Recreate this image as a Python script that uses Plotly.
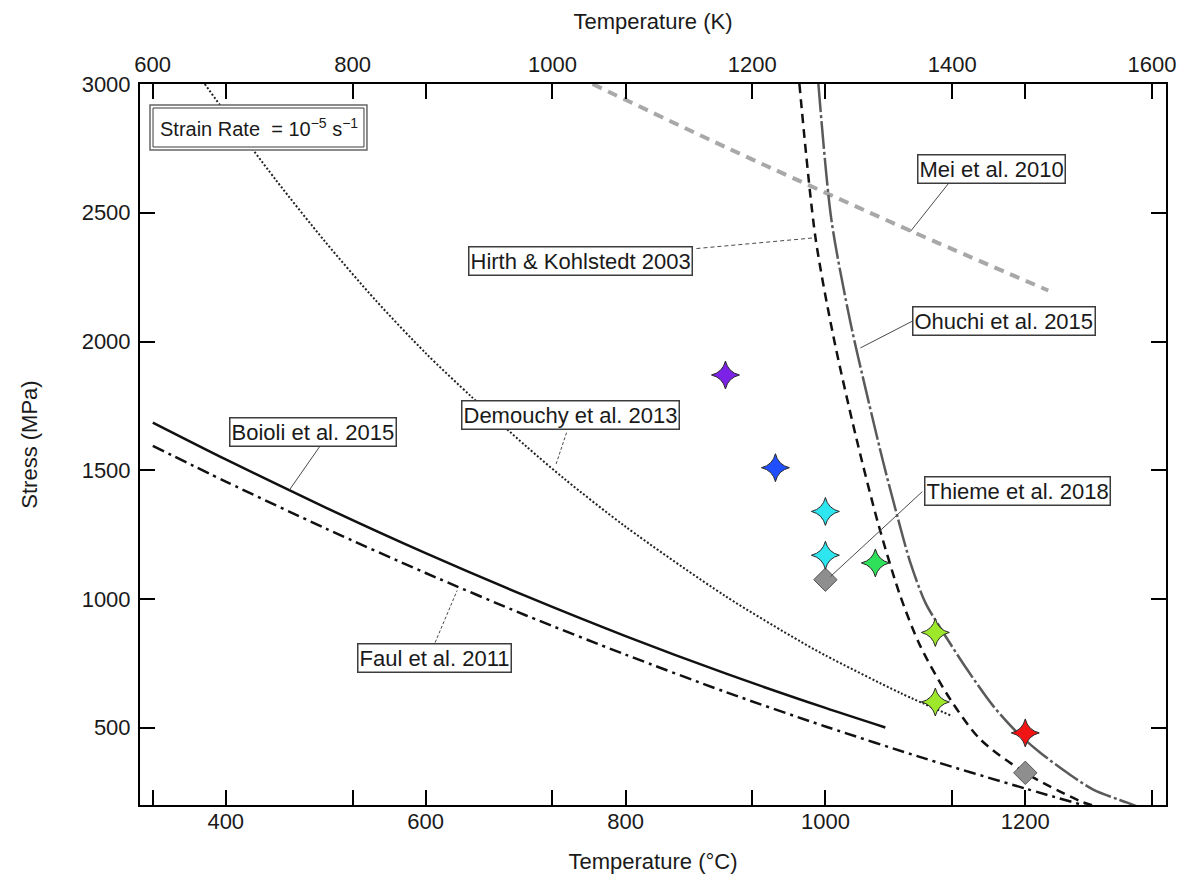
import plotly.graph_objects as go

# ---- flow-law curves: temperature (°C) vs. stress (MPa) at 1e-5 s^-1 ----
boioli_T = [327, 400, 500, 600, 700, 800, 900, 1000, 1060]
boioli_S = [1685, 1542, 1355, 1178, 1012, 856, 711, 577, 501]

faul_T = [327, 400, 500, 600, 700, 800, 900, 1000, 1100, 1200, 1262]
faul_S = [1595, 1456, 1274, 1101, 937, 784, 639, 505, 380, 264, 195]

demouchy_T = [379, 400, 450, 500, 550, 600, 646, 700, 740, 800, 900, 975, 1000, 1075, 1127]
demouchy_S = [3000, 2887, 2628, 2385, 2160, 1955, 1785, 1595, 1463, 1281, 1011, 835, 781, 635, 545]

hirth_T = [974, 990, 1008, 1030, 1053, 1075, 1095, 1125, 1155, 1200, 1255, 1270]
hirth_S = [3000, 2405, 2020, 1640, 1290, 1011, 817, 610, 455, 325, 215, 195]

ohuchi_T = [993, 1006, 1025, 1042, 1058, 1072, 1085, 1100, 1118, 1142, 1168, 1192, 1215, 1242, 1268, 1302, 1315]
ohuchi_S = [3000, 2473, 2075, 1787, 1529, 1321, 1141, 986, 869, 725, 584, 481, 403, 325, 260, 209, 190]

mei_T = [767, 900, 1085, 1223]
mei_S = [3000, 2755, 2430, 2198]

# ---- experimental points ----
star_T = [900, 950, 1000, 1000, 1050, 1110, 1110, 1200]
star_S = [1870, 1510, 1340, 1170, 1140, 870, 600, 480]
star_colors = ["#7B22E6", "#1F4FFF", "#2EE6F0", "#2EE6F0", "#2EE05A", "#9EE82C", "#9EE82C", "#F01414"]

thieme_T = [1000, 1200]
thieme_S = [1075, 325]

# ---- curve labels: text, box centre, leader start, leader end (°C, MPa) ----
label_text = ["Mei et al. 2010", "Hirth & Kohlstedt 2003", "Ohuchi et al. 2015",
              "Demouchy et al. 2013", "Boioli et al. 2015", "Thieme et al. 2018",
              "Faul et al. 2011"]
label_T = [1166, 755, 1179, 745, 487, 1192, 609]
label_S = [2671, 2312, 2079, 1714, 1650, 1419, 769]
leader_T0 = [1123, 871, 1090, 741, 494, 1097, 609.5]
leader_S0 = [2613, 2361, 2085, 1646, 1592, 1417, 831]
leader_T1 = [1085, 990, 1035, 730, 464, 1005, 631.5]
leader_S1 = [2427, 2403, 1975, 1518, 1425, 1087, 1033]
leader_dash = ["solid", "4px,3px", "solid", "3px,2px", "solid", "solid", "3px,2px"]

celsius_ticks = [400, 600, 800, 1000, 1200]
kelvin_ticks = [600, 800, 1000, 1200, 1400, 1600]
stress_ticks = [500, 1000, 1500, 2000, 2500, 3000]
T_range = [314.2, 1340.8]
S_range = [200, 3000]

FONT = "Liberation Sans, Arial, sans-serif"
INK = "#1a1a1a"

fig = go.Figure()


def curve(T, S, color, width, dash):
    fig.add_trace(go.Scatter(x=T, y=S, mode="lines", hoverinfo="skip",
                             line=dict(color=color, width=width, dash=dash,
                                       shape="spline", smoothing=0.8)))


curve(mei_T, mei_S, "#A8A8A8", 4, "10px,7px")
curve(boioli_T, boioli_S, "#111111", 2.5, "solid")
curve(faul_T, faul_S, "#111111", 2.5, "12px,5px,3px,5px")
curve(demouchy_T, demouchy_S, "#222222", 2, "2px,2px")
curve(hirth_T, hirth_S, "#111111", 2.5, "9px,6px")
curve(ohuchi_T, ohuchi_S, "#5A5A5A", 2.5, "28px,3px,3px,3px")

fig.add_trace(go.Scatter(
    x=thieme_T, y=thieme_S, mode="markers", hoverinfo="skip",
    marker=dict(symbol="diamond", size=18, color="#8E8E8E",
                line=dict(color="#555555", width=1))))
fig.add_trace(go.Scatter(
    x=star_T, y=star_S, mode="markers", hoverinfo="skip",
    marker=dict(symbol="star-diamond", size=20, color=star_colors,
                line=dict(color="#2a2a2a", width=1))))

# invisible trace so the Kelvin axis is laid out
fig.add_trace(go.Scatter(x=[T_range[0] + 273.15, T_range[1] + 273.15], y=[None, None],
                         xaxis="x2", mode="lines", hoverinfo="skip", showlegend=False))

# leader lines
for t0, s0, t1, s1, d in zip(leader_T0, leader_S0, leader_T1, leader_S1, leader_dash):
    fig.add_shape(type="line", xref="x", yref="y", x0=t0, y0=s0, x1=t1, y1=s1,
                  line=dict(color="#4a4a4a", width=1, dash=d), layer="above")

# boxed labels
for txt, t, s in zip(label_text, label_T, label_S):
    fig.add_annotation(x=t, y=s, xref="x", yref="y", text=txt, showarrow=False,
                       xanchor="center", yanchor="middle",
                       font=dict(family=FONT, size=22, color=INK),
                       bgcolor="white", bordercolor="#3c3c3c", borderwidth=1.5,
                       borderpad=1)

# strain-rate box (double frame)
fig.add_shape(type="rect", xref="paper", yref="paper",
              x0=0.00975, x1=0.2212, y0=0.9085, y1=0.9709,
              line=dict(color="#666666", width=1.5), fillcolor="white", layer="above")
fig.add_shape(type="rect", xref="paper", yref="paper",
              x0=0.0127, x1=0.2183, y0=0.9126, y1=0.9667,
              line=dict(color="#3a3a3a", width=1), fillcolor="white", layer="above")
fig.add_annotation(x=0.1155, y=0.9397, xref="paper", yref="paper",
                   xanchor="center", yanchor="middle",
                   text="Strain Rate  = 10<sup>\u22125</sup> s<sup>\u22121</sup>",
                   showarrow=False, font=dict(family=FONT, size=20, color=INK))

axis_common = dict(showgrid=False, zeroline=False, showline=True, linecolor="black",
                   linewidth=2, ticks="inside", ticklen=15, tickwidth=2,
                   tickcolor="black", mirror="ticks",
                   tickfont=dict(family=FONT, size=22, color=INK))

fig.update_layout(
    width=1189, height=881,
    margin=dict(l=140, r=23, t=84, b=76),
    paper_bgcolor="white", plot_bgcolor="white", showlegend=False,
    font=dict(family=FONT, size=22, color=INK),
    xaxis=dict(range=T_range, tickvals=celsius_ticks, ticklabelstandoff=-4,
               title=dict(text="Temperature (°C)", standoff=20,
                          font=dict(family=FONT, size=22, color=INK)),
               **axis_common),
    xaxis2=dict(range=[T_range[0] + 273.15, T_range[1] + 273.15], tickvals=kelvin_ticks,
                overlaying="x", side="top", anchor="y", ticklabelstandoff=1,
                title=dict(text="Temperature (K)", standoff=17,
                           font=dict(family=FONT, size=22, color=INK)),
                **axis_common),
    yaxis=dict(range=S_range, tickvals=stress_ticks, ticklabelstandoff=3,
               title=dict(text="Stress (MPa)", standoff=38,
                          font=dict(family=FONT, size=22, color=INK)),
               **axis_common),
)

fig.write_html("out.html")
